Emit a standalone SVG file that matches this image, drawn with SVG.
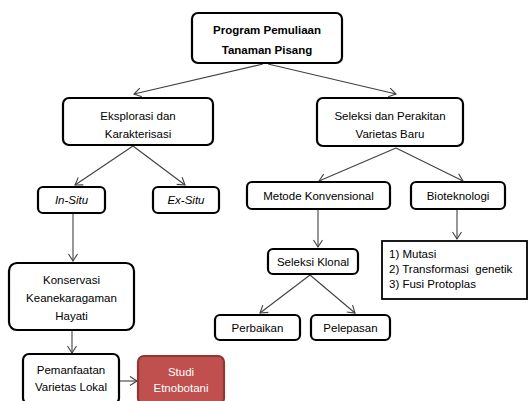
<svg xmlns="http://www.w3.org/2000/svg" width="528" height="401" viewBox="0 0 528 401">
<defs>
<marker id="arr" markerUnits="userSpaceOnUse" markerWidth="12" markerHeight="12" viewBox="-8 -6 10 12" refX="0" refY="0" orient="auto">
<path d="M-7,-4.5 L0,0 L-7,4.5" fill="none" stroke="#404040" stroke-width="1.1"/>
</marker>
<style>
.box{fill:#ffffff;stroke:#000000;stroke-width:2.2}
.sq{fill:#ffffff;stroke:#000000;stroke-width:1.8}
.red{fill:#c0504d;stroke:#8c3836;stroke-width:2.2}
.t{font-family:"Liberation Sans",Arial,sans-serif;font-size:11.5px;fill:#000000;text-anchor:middle}
.b{font-weight:bold}
.i{font-style:italic}
.w{fill:#ffffff}
.l{text-anchor:start}
.c{fill:none;stroke:#404040;stroke-width:1.1;marker-end:url(#arr)}
</style>
</defs>
<rect width="528" height="401" fill="#ffffff"/>
<g id="connectors">
<line class="c" x1="263" y1="64" x2="134" y2="94"/>
<line class="c" x1="268" y1="64" x2="396" y2="94"/>
<line class="c" x1="133" y1="146" x2="75" y2="185"/>
<line class="c" x1="133" y1="146" x2="185" y2="185"/>
<line class="c" x1="396" y1="148" x2="319" y2="181"/>
<line class="c" x1="396" y1="148" x2="463" y2="181"/>
<line class="c" x1="73" y1="213" x2="73" y2="261"/>
<line class="c" x1="318" y1="209" x2="318" y2="247"/>
<line class="c" x1="457" y1="209" x2="457" y2="239"/>
<line class="c" x1="310" y1="275" x2="260" y2="313"/>
<line class="c" x1="310" y1="275" x2="355" y2="313"/>
<line class="c" x1="72" y1="331" x2="72" y2="353"/>
<line class="c" x1="119" y1="381" x2="137" y2="381"/>
</g>
<g id="program">
<rect class="box" x="192" y="13" width="150" height="50" rx="6"/>
<text class="t b" x="267" y="34">Program Pemuliaan</text>
<text class="t b" x="267" y="54">Tanaman Pisang</text>
</g>
<g id="eksplorasi">
<rect class="box" x="63" y="98" width="150" height="47" rx="6"/>
<text class="t" x="138" y="120">Eksplorasi dan</text>
<text class="t" x="138" y="138">Karakterisasi</text>
</g>
<g id="seleksi">
<rect class="box" x="317" y="98" width="146" height="48" rx="6"/>
<text class="t" x="390" y="120">Seleksi dan Perakitan</text>
<text class="t" x="390" y="138">Varietas Baru</text>
</g>
<g id="insitu">
<rect class="box" x="38" y="187" width="67" height="26" rx="5"/>
<text class="t i" x="71.5" y="204">In-Situ</text>
</g>
<g id="exsitu">
<rect class="box" x="153" y="187" width="66" height="26" rx="5"/>
<text class="t i" x="186" y="204">Ex-Situ</text>
</g>
<g id="metode">
<rect class="box" x="247" y="182" width="143" height="27" rx="5"/>
<text class="t" x="318.5" y="200">Metode Konvensional</text>
</g>
<g id="bioteknologi">
<rect class="box" x="411" y="182" width="94" height="27" rx="5"/>
<text class="t" x="458" y="200">Bioteknologi</text>
</g>
<g id="daftar">
<rect class="sq" x="382" y="241" width="145" height="58"/>
<text class="t l" x="389" y="258">1) Mutasi</text>
<text class="t l" x="389" y="273">2) Transformasi&#160; genetik</text>
<text class="t l" x="389" y="288">3) Fusi Protoplas</text>
</g>
<g id="klonal">
<rect class="box" x="268" y="249" width="90" height="25" rx="5"/>
<text class="t" x="313" y="266">Seleksi Klonal</text>
</g>
<g id="perbaikan">
<rect class="box" x="215" y="315" width="85" height="25" rx="5"/>
<text class="t" x="257.5" y="332">Perbaikan</text>
</g>
<g id="pelepasan">
<rect class="box" x="311" y="315" width="79" height="25" rx="5"/>
<text class="t" x="350.5" y="332">Pelepasan</text>
</g>
<g id="konservasi">
<rect class="box" x="9" y="263" width="125" height="67" rx="8"/>
<text class="t" x="71.5" y="284">Konservasi</text>
<text class="t" x="71.5" y="302">Keanekaragaman</text>
<text class="t" x="71.5" y="320">Hayati</text>
</g>
<g id="pemanfaatan">
<rect class="box" x="23" y="354" width="96" height="50" rx="6"/>
<text class="t" x="71" y="374">Pemanfaatan</text>
<text class="t" x="71" y="391">Varietas Lokal</text>
</g>
<g id="studi">
<rect class="red" x="138" y="356" width="86" height="48" rx="6"/>
<text class="t w" x="181" y="376">Studi</text>
<text class="t w" x="181" y="392">Etnobotani</text>
</g>
</svg>
